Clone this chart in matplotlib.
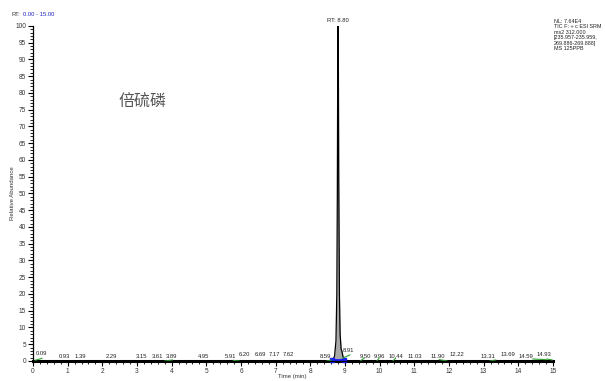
import matplotlib
matplotlib.use("Agg")
import matplotlib.pyplot as plt
from matplotlib.ticker import MultipleLocator

plt.rcParams['font.family'] = ['Liberation Sans', 'Noto Sans CJK SC', 'DejaVu Sans']

# Main chromatogram trace (time, relative abundance)
trace_t = [0.0, 8.64, 8.70, 8.74, 8.765, 8.78, 8.79, 8.80, 8.81, 8.82, 8.84, 8.86, 8.89, 8.91, 8.94, 8.98, 15.0]
trace_y = [0.0, 0.0, 1.5, 6.0, 20.0, 50.0, 85.0, 100.0, 88.0, 55.0, 20.0, 8.0, 3.5, 3.0, 1.5, 0.0, 0.0]

# Peak labels: retention time values
label_rt = [0.09, 0.93, 1.39, 2.29, 3.15, 3.61, 3.89, 4.95, 5.91, 6.20, 6.69, 7.17, 7.62,
            8.59, 8.91, 9.50, 9.96, 10.44, 11.03, 11.90, 12.22, 13.31, 13.69, 14.59, 14.93]
# where each label was drawn (time position, height) to avoid collisions
label_x = [0.23, 0.90, 1.37, 2.26, 3.14, 3.58, 4.00, 4.92, 5.71, 6.11, 6.55, 6.98, 7.38,
           8.45, 9.11, 9.58, 9.99, 10.47, 11.02, 11.68, 12.23, 13.13, 13.70, 14.22, 14.74]
label_y = [2.1, 1.4, 1.4, 1.4, 1.4, 1.4, 1.4, 1.4, 1.4, 1.9, 1.9, 1.9, 1.9,
           1.4, 3.0, 1.4, 1.4, 1.4, 1.4, 1.4, 1.8, 1.2, 2.0, 1.2, 2.0]

# Small integrated peaks (green baselines): start, end, start height, end height
small_start = [0.06, 3.80, 5.78, 8.48, 8.92, 9.44, 9.92, 10.38, 11.72, 13.18, 14.42, 14.82]
small_end   = [0.26, 4.02, 5.95, 8.62, 9.14, 9.55, 9.98, 10.46, 11.95, 13.35, 14.80, 14.98]
small_y0    = [0.2, 0.0, 0.2, 0.0, 0.8, 0.0, 0.0, 0.0, 0.4, 0.0, 0.6, 0.6]
small_y1    = [0.8, 0.3, 0.0, 0.3, 1.8, 0.8, 0.8, 0.8, 0.0, 0.3, 0.4, 0.3]

info_lines = ["NL: 7.64E4", "TIC F: + c ESI SRM", "ms2 312.000",
              "[235.957-235.959,", "269.886-269.888]", "MS 125PPB"]

fig = plt.figure(figsize=(6.05, 3.81), dpi=100)
ax = fig.add_axes([0.0545, 0.0525, 0.8595, 0.8795])

ax.fill_between(trace_t, 0, trace_y, color='#a8a8a8', linewidth=0)
ax.plot(trace_t, trace_y, color='black', linewidth=0.9)
ax.plot([0, 15], [0, 0], color='black', linewidth=2.2, clip_on=False)
# blue integration baseline under main peak
ax.plot([8.63, 8.98], [0.25, 0.25], color='#1a1aff', linewidth=2.0, marker='s',
        markersize=2.2, clip_on=False)

for s, e, a, b in zip(small_start, small_end, small_y0, small_y1):
    ax.plot([s, e], [a, b], color='#2ca02c', linewidth=0.8)

for rt, x, y in zip(label_rt, label_x, label_y):
    ax.text(x, y, f"{rt:.2f}", fontsize=4.2, ha='center', va='center', color='#222222')

ax.text(8.80, 101.6, "RT: 8.80", fontsize=4.2, ha='center', va='center', color='#222222')

ax.set_xlim(0, 15)
ax.set_ylim(0, 100)
ax.xaxis.set_major_locator(MultipleLocator(1))
ax.xaxis.set_minor_locator(MultipleLocator(0.2))
ax.yaxis.set_major_locator(MultipleLocator(5))
ax.yaxis.set_minor_locator(MultipleLocator(1))
ax.tick_params(axis='both', which='major', labelsize=4.7, length=3.5, width=0.8, pad=1.5, colors='black')
ax.tick_params(axis='both', which='minor', length=2.0, width=0.6)
for lab in ax.get_xticklabels() + ax.get_yticklabels():
    lab.set_color('#333333')
for sp in ['top', 'right']:
    ax.spines[sp].set_visible(False)
ax.spines['left'].set_linewidth(0.9)
ax.spines['bottom'].set_linewidth(0.9)

ax.set_xlabel("Time (min)", fontsize=4.3, color='#333333')
ax.xaxis.set_label_coords(0.498, -0.038)
ax.set_ylabel("Relative Abundance", fontsize=4.3, color='#333333')
ax.yaxis.set_label_coords(-0.035, 0.5)

fig.text(12 / 605, 0.963, "RT:", fontsize=4.2, ha='left', va='center', color='#333333')
fig.text(23 / 605, 0.963, "0.00 - 15.00", fontsize=4.2, ha='left', va='center', color='#2020c0')

fig.text(554 / 605, 1 - 19 / 381, "\n".join(info_lines), fontsize=3.9, ha='left', va='top',
         color='#222222', linespacing=1.12)

ax.text(3.15, 77.3, "倍硫磷", fontsize=11.5, ha='center', va='center', color='#555555',
        family=['Noto Sans CJK SC', 'DejaVu Sans'])

fig.savefig("out.png", dpi=100)
